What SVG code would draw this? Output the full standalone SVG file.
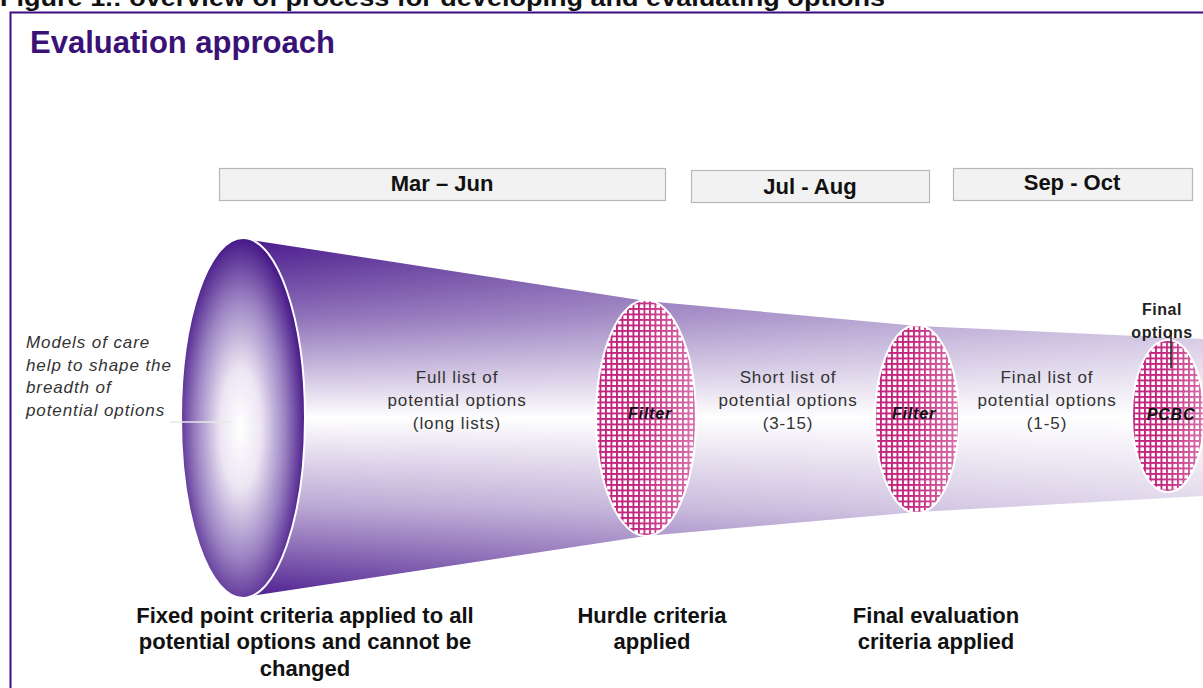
<svg xmlns="http://www.w3.org/2000/svg" width="1203" height="688" viewBox="0 0 1203 688">
<style>
.cap{font-family:"Liberation Sans",Arial,sans-serif;font-weight:bold;font-size:22px;fill:#111;text-anchor:middle}
.inner{font-family:"Liberation Sans",Arial,sans-serif;font-size:17px;letter-spacing:0.9px;fill:#333;text-anchor:middle}
.flt{font-family:"Liberation Sans",Arial,sans-serif;font-size:16px;letter-spacing:0.8px;font-weight:bold;font-style:italic;fill:#111;text-anchor:middle}
.box{fill:#f2f2f2;stroke:#b8b8b8;stroke-width:1.2}
.filter{fill:url(#hatch);stroke:#fff;stroke-width:2}
</style>
<defs>
<pattern id="hatch" width="5.5" height="5.5" patternUnits="userSpaceOnUse">
<rect width="5.5" height="5.5" fill="#fff"/>
<rect width="5.5" height="1.9" fill="#c2257d"/>
<rect width="1.9" height="5.5" fill="#c2257d"/>
</pattern>
<linearGradient id="bodyV" gradientUnits="userSpaceOnUse" x1="0" y1="238" x2="0" y2="598">
<stop offset="0" stop-color="#4a1a8c"/>
<stop offset="0.22" stop-color="#8d6fb8"/>
<stop offset="0.5" stop-color="#ffffff"/>
<stop offset="0.75" stop-color="#b8a4d2"/>
<stop offset="1" stop-color="#4e2090"/>
</linearGradient>
<linearGradient id="bodyH" gradientUnits="userSpaceOnUse" x1="262" y1="0" x2="1203" y2="0">
<stop offset="0" stop-color="#fff" stop-opacity="0"/>
<stop offset="1" stop-color="#fff" stop-opacity="0.55"/>
</linearGradient>
<radialGradient id="front" cx="0.48" cy="0.53" r="0.55">
<stop offset="0" stop-color="#ffffff"/>
<stop offset="0.3" stop-color="#ece6f3"/>
<stop offset="0.65" stop-color="#9c84c3"/>
<stop offset="1" stop-color="#3c0a80"/>
</radialGradient>
<linearGradient id="fade" x1="0" y1="0" x2="1" y2="0">
<stop offset="0.4" stop-color="#fff" stop-opacity="0"/>
<stop offset="1" stop-color="#fff" stop-opacity="0.35"/>
</linearGradient>
</defs>
<rect width="1203" height="688" fill="#fff"/>
<text x="0" y="6" font-family="Liberation Sans,Arial,sans-serif" font-weight="bold" font-size="23" fill="#111" textLength="885" lengthAdjust="spacingAndGlyphs">Figure 1.: overview of process for developing and evaluating options</text>
<rect x="10.5" y="12.5" width="1200" height="700" fill="none" stroke="#3a0b82" stroke-width="2"/>
<text x="30" y="53" font-family="Liberation Sans,Arial,sans-serif" font-weight="bold" font-size="31" fill="#3a1277">Evaluation approach</text>

<g id="periods">
<g id="p1"><rect class="box" x="219.5" y="168.5" width="446" height="32"/><text class="cap" x="442" y="191">Mar – Jun</text></g>
<g id="p2"><rect class="box" x="691.5" y="170.5" width="238" height="32"/><text class="cap" x="810" y="194">Jul - Aug</text></g>
<g id="p3"><rect class="box" x="953.5" y="168.5" width="239" height="32"/><text class="cap" x="1072" y="190">Sep - Oct</text></g>
</g>

<g id="funnel">
<path d="M245 238 L646 300 L918 325 L1203 338 L1203 497 L918 513 L646 537 L245 598 Z" fill="url(#bodyV)"/>
<path d="M245 238 L646 300 L918 325 L1203 338 L1203 497 L918 513 L646 537 L245 598 Z" fill="url(#bodyH)"/>
<path d="M245 238 L646 300 L918 325 L1203 338" fill="none" stroke="#fff" stroke-width="2"/>
<path d="M245 598 L646 537 L918 513 L1203 497" fill="none" stroke="#fff" stroke-width="2"/>
</g>

<g id="front-cap">
<ellipse cx="243" cy="418" rx="62" ry="180" fill="url(#front)" stroke="#fff" stroke-width="2"/>
</g>

<g id="filter1">
<ellipse class="filter" cx="646" cy="418" rx="50" ry="118"/>
<ellipse cx="646" cy="418" rx="50" ry="118" fill="url(#fade)"/>
<text class="flt" x="650" y="419">Filter</text>
</g>
<g id="filter2">
<ellipse class="filter" cx="917" cy="419" rx="42" ry="94"/>
<ellipse cx="917" cy="419" rx="42" ry="94" fill="url(#fade)"/>
<text class="flt" x="914" y="419">Filter</text>
</g>
<g id="pcbc">
<ellipse class="filter" cx="1168" cy="416" rx="36" ry="76"/>
<ellipse cx="1168" cy="416" rx="36" ry="76" fill="url(#fade)"/>
<text class="flt" x="1171" y="420">PCBC</text>
</g>

<g id="labels-inner">
<text class="inner" x="457" y="383">Full list of</text>
<text class="inner" x="457" y="406">potential options</text>
<text class="inner" x="457" y="429">(long lists)</text>
<text class="inner" x="788" y="383">Short list of</text>
<text class="inner" x="788" y="406">potential options</text>
<text class="inner" x="788" y="429">(3-15)</text>
<text class="inner" x="1047" y="383">Final list of</text>
<text class="inner" x="1047" y="406">potential options</text>
<text class="inner" x="1047" y="429">(1-5)</text>
</g>

<g id="models-note">
<text font-family="Liberation Sans,Arial,sans-serif" font-style="italic" font-size="17" letter-spacing="0.9" fill="#333">
<tspan x="26" y="348">Models of care</tspan>
<tspan x="26" y="371">help to shape the</tspan>
<tspan x="26" y="393">breadth of</tspan>
<tspan x="26" y="416">potential options</tspan>
</text>
</g>

<g id="final-options">
<text font-family="Liberation Sans,Arial,sans-serif" font-weight="bold" font-size="16" letter-spacing="0.5" fill="#222" text-anchor="middle"><tspan x="1162" y="315">Final</tspan><tspan x="1162" y="338">options</tspan></text>
</g>

<g id="connectors">
<line x1="170" y1="422" x2="232" y2="422" stroke="#e8e8e8" stroke-width="1.5"/>
<line x1="1171" y1="330" x2="1171" y2="368" stroke="#222" stroke-width="1.5"/>
</g>

<g id="criteria">
<text class="cap" x="305" y="623">Fixed point criteria applied to all</text>
<text class="cap" x="305" y="649">potential options and cannot be</text>
<text class="cap" x="305" y="676">changed</text>
<text class="cap" x="652" y="623">Hurdle criteria</text>
<text class="cap" x="652" y="649">applied</text>
<text class="cap" x="936" y="623">Final evaluation</text>
<text class="cap" x="936" y="649">criteria applied</text>
</g>
</svg>
